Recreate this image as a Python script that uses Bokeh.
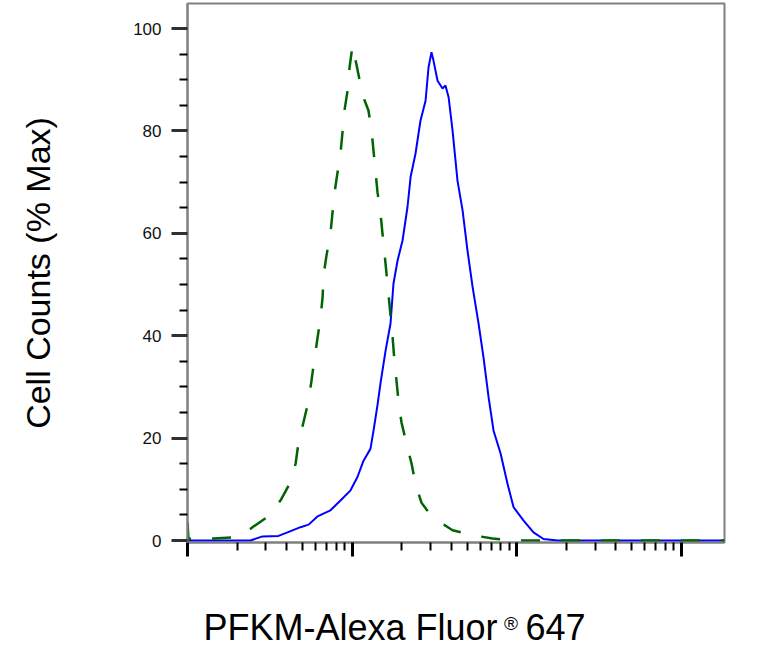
import numpy as np
from bokeh.plotting import figure
from bokeh.models import FixedTicker, Range1d, LogAxis
from bokeh.embed import file_html
from bokeh.resources import INLINE

# Fluorescence intensity as log10 exponent (decades), cell counts as % of max
blue_log10_intensity = [1.000, 1.383, 1.456, 1.553, 1.608, 1.687, 1.736, 1.790, 1.869, 1.930,
                        1.991, 2.033, 2.070, 2.112, 2.131, 2.155, 2.173, 2.204, 2.234, 2.252,
                        2.277, 2.307, 2.337, 2.356, 2.386, 2.416, 2.447, 2.465, 2.483, 2.495,
                        2.520, 2.550, 2.568, 2.587, 2.611, 2.641, 2.672, 2.702, 2.733, 2.769,
                        2.799, 2.830, 2.860, 2.903, 2.945, 2.982, 3.043, 3.103, 3.164, 3.249,
                        4.264]
blue_pct_max = [0, 0, 0.8, 0.9, 1.6, 2.6, 3.1, 4.7, 5.9, 7.8,
                9.8, 12.4, 15.6, 17.9, 21.5, 26.5, 30.7, 37.1, 42.4, 50.2,
                54.7, 58.6, 65.1, 71.0, 75.6, 82.0, 85.9, 92.4, 95.4, 93.75,
                89.8, 88.3, 88.9, 86.6, 80.1, 70.3, 64.5, 56.6, 49.5, 42.4,
                35.8, 28.0, 21.5, 17.0, 11.1, 6.5, 3.9, 1.6, 0.3, 0,
                0]

green_log10_intensity = [1.000, 1.006, 1.061, 1.158, 1.286, 1.383, 1.395, 1.486, 1.565, 1.626,
                         1.657, 1.675, 1.705, 1.736, 1.754, 1.772, 1.790, 1.809, 1.821, 1.827,
                         1.845, 1.869, 1.881, 1.894, 1.912, 1.930, 1.942, 1.954, 1.973, 1.985,
                         2.003, 2.027, 2.052, 2.076, 2.100, 2.119, 2.131, 2.143, 2.155, 2.173,
                         2.185, 2.198, 2.210, 2.222, 2.234, 2.246, 2.258, 2.271, 2.283, 2.301,
                         2.331, 2.362, 2.386, 2.422, 2.477, 2.520, 2.611, 2.739, 2.854, 2.976,
                         4.264]
green_pct_max = [3.5, 0.3, 0.4, 0.4, 0.6, 2.3, 2.6, 4.6, 7.8, 11.4,
                 15.0, 19.2, 23.1, 27.3, 31.3, 35.5, 39.5, 43.6, 47.5, 51.8,
                 55.7, 60.0, 63.9, 68.0, 71.9, 75.6, 79.7, 84.0, 87.9, 92.4,
                 96.7, 93.0, 89.0, 86.0, 84.0, 80.0, 76.0, 72.0, 68.0, 64.0,
                 60.0, 56.0, 52.0, 48.0, 44.0, 40.0, 35.0, 31.0, 27.0, 23.0,
                 19.0, 15.0, 11.0, 7.4, 5.0, 3.9, 2.0, 1.0, 0.4, 0.0,
                 0.0]

y_ticks = [0, 20, 40, 60, 80, 100]
y_minor_ticks = [5, 10, 15, 25, 30, 35, 45, 50, 55, 65, 70, 75, 85, 90, 95, 105]
x_major_ticks = [10, 100, 1000, 10000]
x_minor_ticks = [k * 10 ** d for d in (1, 2, 3) for k in range(2, 10)]

# x-axis title pieces, anchored at intensities along the log axis
x_title_text = {98: "PFKM-Alexa Fluor", 1726: "647"}
x_title_mark = {926: "®"}
y_label = "Cell Counts (% Max)"

FONT = "Liberation Sans"

p = figure(width=757, height=651, x_axis_type="log",
           x_range=Range1d(10, 10 ** 4.264), y_range=Range1d(-0.39, 104.9),
           output_backend="svg", toolbar_location=None,
           min_border_left=187, min_border_right=33, min_border_top=3, min_border_bottom=109)

p.background_fill_color = "white"
p.border_fill_color = "white"
p.outline_line_color = "#808080"
p.outline_line_width = 2
p.xgrid.visible = False
p.ygrid.visible = False

# y axis
p.yaxis.ticker = FixedTicker(ticks=y_ticks, minor_ticks=y_minor_ticks)
p.yaxis.axis_line_color = "#808080"
p.yaxis.axis_line_width = 2
p.yaxis.major_tick_line_color = "#303030"
p.yaxis.major_tick_line_width = 3
p.yaxis.major_tick_out = 16
p.yaxis.major_tick_in = 0
p.yaxis.minor_tick_line_color = "black"
p.yaxis.minor_tick_line_width = 2
p.yaxis.minor_tick_out = 8
p.yaxis.minor_tick_in = 0
p.yaxis.major_label_text_font = FONT
p.yaxis.major_label_text_font_size = "17px"
p.yaxis.major_label_text_color = "#111111"
p.yaxis.major_label_standoff = 10
p.yaxis.axis_label = y_label
p.yaxis.axis_label_text_font = FONT
p.yaxis.axis_label_text_font_size = "34px"
p.yaxis.axis_label_text_font_style = "normal"
p.yaxis.axis_label_text_color = "black"
p.yaxis.axis_label_standoff = 73

# x axis (log, labels hidden)
p.xaxis.ticker = FixedTicker(ticks=x_major_ticks, minor_ticks=x_minor_ticks)
p.xaxis.axis_line_color = "#808080"
p.xaxis.axis_line_width = 2
p.xaxis.major_tick_line_color = "black"
p.xaxis.major_tick_line_width = 3
p.xaxis.major_tick_out = 14
p.xaxis.major_tick_in = 0
p.xaxis.minor_tick_line_color = "black"
p.xaxis.minor_tick_line_width = 2
p.xaxis.minor_tick_out = 8
p.xaxis.minor_tick_in = 0
p.xaxis.major_label_text_font_size = "1px"
p.xaxis.major_label_text_alpha = 0
p.xaxis.major_label_standoff = 2


def title_axis(labels, size, standoff):
    ticks = list(labels.keys())
    ax = LogAxis(ticker=FixedTicker(ticks=ticks, minor_ticks=[]),
                 major_label_overrides={k: v for k, v in labels.items()})
    ax.axis_line_color = None
    ax.major_tick_line_color = None
    ax.minor_tick_line_color = None
    ax.major_tick_out = 0
    ax.major_tick_in = 0
    ax.major_label_text_font = FONT
    ax.major_label_text_font_size = size
    ax.major_label_text_color = "black"
    ax.major_label_standoff = standoff
    return ax


# superscript ® sits in a panel above the main title text
p.add_layout(title_axis(x_title_mark, "19px", 56), "below")
p.add_layout(title_axis(x_title_text, "36px", -30), "below")

p.line(10 ** np.array(blue_log10_intensity), blue_pct_max, line_color="#0000ff", line_width=2)
p.line(10 ** np.array(green_log10_intensity), green_pct_max, line_color="#006400",
       line_width=2.5, line_dash="19 21")

open("out.html", "w").write(file_html(p, INLINE))
